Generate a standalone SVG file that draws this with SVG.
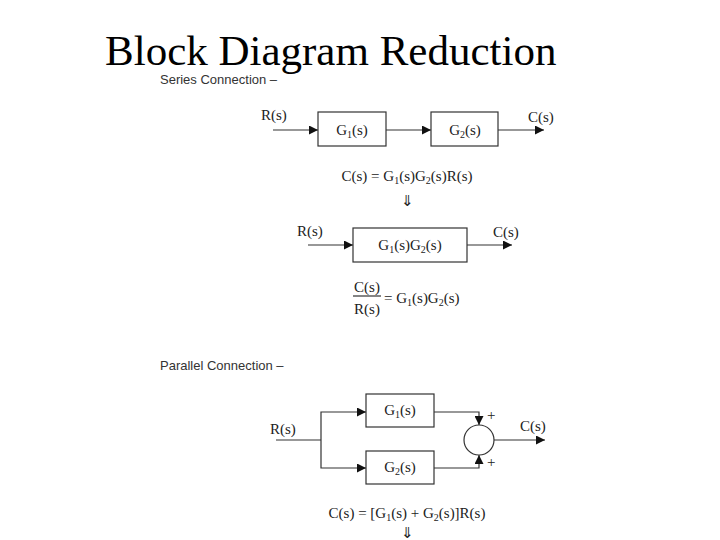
<svg xmlns="http://www.w3.org/2000/svg" width="720" height="540" viewBox="0 0 720 540">
<style>
.t{font-family:"Liberation Serif",serif;font-size:15px;fill:#222}
.h{font-family:"Liberation Sans",sans-serif;font-size:13px;fill:#333}
.b{fill:#fff;stroke:#333;stroke-width:1.2}
.l{fill:none;stroke:#333;stroke-width:1.2}
</style>
<defs><marker id="a" viewBox="0 0 10 10" refX="10" refY="5" markerWidth="9" markerHeight="9" markerUnits="userSpaceOnUse" orient="auto"><path d="M0,0L10,5L0,10z" fill="#111"/></marker></defs>
<rect width="720" height="540" fill="#fff"/>
<text x="105" y="65" font-family="Liberation Serif,serif" font-size="43" fill="#000">Block Diagram Reduction</text>
<text class="h" x="160" y="84">Series Connection –</text>
<text class="h" x="160" y="370">Parallel Connection –</text>
<g id="connectors">
<line class="l" x1="273" y1="130" x2="318" y2="130" marker-end="url(#a)"/>
<line class="l" x1="386" y1="130" x2="431" y2="130" marker-end="url(#a)"/>
<line class="l" x1="498" y1="130" x2="544" y2="130" marker-end="url(#a)"/>
<line class="l" x1="308" y1="245" x2="353" y2="245" marker-end="url(#a)"/>
<line class="l" x1="467" y1="245" x2="512" y2="245" marker-end="url(#a)"/>
<polyline class="l" points="276,440 321,440"/>
<polyline class="l" points="321,440 321,412 366,412" marker-end="url(#a)"/>
<polyline class="l" points="321,440 321,468 366,468" marker-end="url(#a)"/>
<polyline class="l" points="434,412 479,412 479,425" marker-end="url(#a)"/>
<polyline class="l" points="434,468 479,468 479,455" marker-end="url(#a)"/>
<line class="l" x1="494" y1="440" x2="545" y2="440" marker-end="url(#a)"/>
</g>
<g id="g1"><rect class="b" x="318" y="112" width="68" height="34"/><text class="t" x="352" y="135" text-anchor="middle">G<tspan font-size="10" dy="3">1</tspan><tspan dy="-3">(s)</tspan></text></g>
<g id="g2"><rect class="b" x="431" y="112" width="67" height="34"/><text class="t" x="465" y="135" text-anchor="middle">G<tspan font-size="10" dy="3">2</tspan><tspan dy="-3">(s)</tspan></text></g>
<g id="g12"><rect class="b" x="353" y="228" width="114" height="34"/><text class="t" x="410" y="250" text-anchor="middle">G<tspan font-size="10" dy="3">1</tspan><tspan dy="-3">(s)G</tspan><tspan font-size="10" dy="3">2</tspan><tspan dy="-3">(s)</tspan></text></g>
<g id="pg1"><rect class="b" x="366" y="394" width="68" height="33"/><text class="t" x="400" y="415" text-anchor="middle">G<tspan font-size="10" dy="3">1</tspan><tspan dy="-3">(s)</tspan></text></g>
<g id="pg2"><rect class="b" x="366" y="451" width="68" height="33"/><text class="t" x="400" y="472" text-anchor="middle">G<tspan font-size="10" dy="3">2</tspan><tspan dy="-3">(s)</tspan></text></g>
<g id="sum"><circle class="b" cx="479" cy="440" r="15"/></g>
<g>
<text class="t" x="261" y="120">R(s)</text><text class="t" x="528" y="122">C(s)</text>
<text class="t" x="407" y="181" text-anchor="middle">C(s) = G<tspan font-size="10" dy="3">1</tspan><tspan dy="-3">(s)G</tspan><tspan font-size="10" dy="3">2</tspan><tspan dy="-3">(s)R(s)</tspan></text>
<text class="t" x="407" y="206" text-anchor="middle">⇓</text>
<text class="t" x="297" y="236">R(s)</text><text class="t" x="493" y="237">C(s)</text>
<text class="t" x="367" y="292" text-anchor="middle">C(s)</text>
<line class="l" x1="353" y1="296" x2="381" y2="296"/>
<text class="t" x="367" y="314" text-anchor="middle">R(s)</text>
<text class="t" x="384" y="303">= G<tspan font-size="10" dy="3">1</tspan><tspan dy="-3">(s)G</tspan><tspan font-size="10" dy="3">2</tspan><tspan dy="-3">(s)</tspan></text>
<text class="t" x="270" y="434">R(s)</text><text class="t" x="520" y="431">C(s)</text>
<text class="t" x="487" y="420">+</text><text class="t" x="487" y="467">+</text>
<text class="t" x="407" y="518" text-anchor="middle">C(s) = [G<tspan font-size="10" dy="3">1</tspan><tspan dy="-3">(s) + G</tspan><tspan font-size="10" dy="3">2</tspan><tspan dy="-3">(s)]R(s)</tspan></text>
<text class="t" x="407" y="538" font-size="10" text-anchor="middle">⇓</text>
</g>
</svg>
